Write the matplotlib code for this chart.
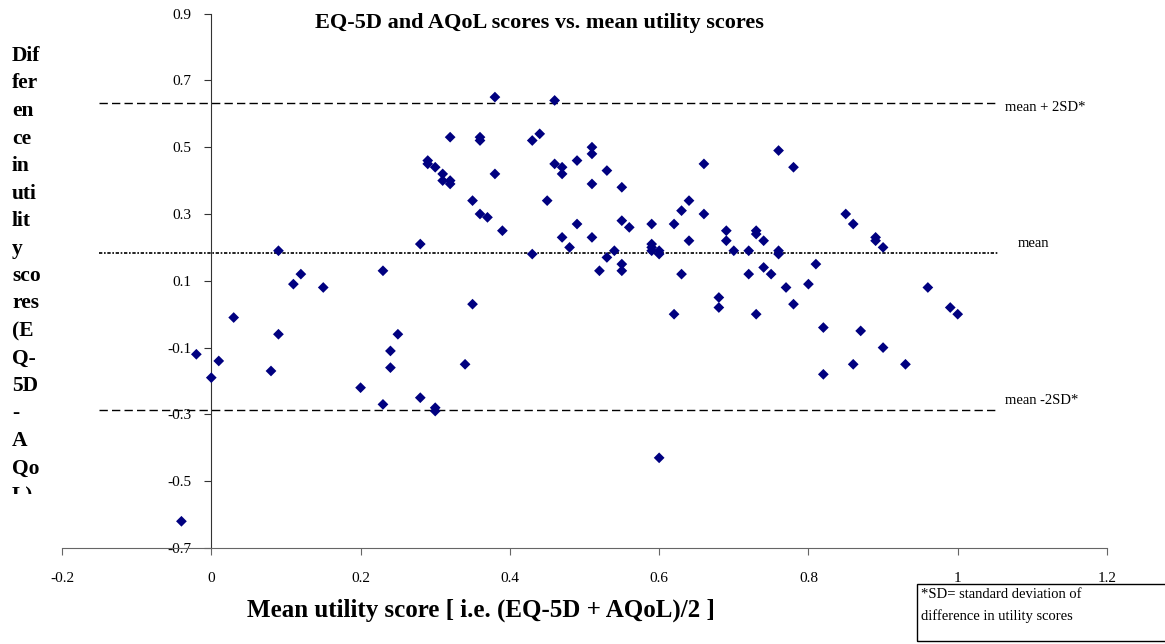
import numpy as np
import matplotlib
matplotlib.use('Agg')
import matplotlib.pyplot as plt
from matplotlib.patches import Rectangle
from matplotlib.transforms import Bbox, TransformedBbox

plt.rcParams['font.family'] = ['Liberation Serif', 'DejaVu Serif']

# mean utility score (x) and difference EQ-5D - AQoL (y)
mean_util = [-0.04, -0.02, 0.00, 0.01, 0.03, 0.08, 0.09, 0.09, 0.11, 0.12,
             0.15, 0.20, 0.23, 0.23, 0.24, 0.24, 0.25, 0.28, 0.28, 0.29,
             0.29, 0.30, 0.30, 0.30, 0.31, 0.31, 0.32, 0.32, 0.32, 0.34,
             0.35, 0.35, 0.36, 0.36, 0.36, 0.37, 0.38, 0.38, 0.39, 0.43,
             0.43, 0.44, 0.45, 0.46, 0.46, 0.47, 0.47, 0.47, 0.48, 0.49,
             0.49, 0.51, 0.51, 0.51, 0.51, 0.52, 0.53, 0.53, 0.54, 0.55,
             0.55, 0.55, 0.55, 0.56, 0.59, 0.59, 0.59, 0.59, 0.60, 0.60,
             0.60, 0.62, 0.62, 0.63, 0.63, 0.64, 0.64, 0.66, 0.66, 0.68,
             0.68, 0.69, 0.69, 0.70, 0.72, 0.72, 0.73, 0.73, 0.73, 0.74,
             0.74, 0.75, 0.76, 0.76, 0.76, 0.77, 0.78, 0.78, 0.80, 0.81,
             0.82, 0.82, 0.85, 0.86, 0.86, 0.87, 0.89, 0.89, 0.90, 0.90,
             0.93, 0.96, 0.99, 1.00]
diff_util = [-0.62, -0.12, -0.19, -0.14, -0.01, -0.17, 0.19, -0.06, 0.09, 0.12,
             0.08, -0.22, 0.13, -0.27, -0.11, -0.16, -0.06, 0.21, -0.25, 0.46,
             0.45, 0.44, -0.28, -0.29, 0.42, 0.40, 0.40, 0.39, 0.53, -0.15,
             0.34, 0.03, 0.30, 0.53, 0.52, 0.29, 0.65, 0.42, 0.25, 0.18,
             0.52, 0.54, 0.34, 0.64, 0.45, 0.44, 0.42, 0.23, 0.20, 0.46,
             0.27, 0.50, 0.48, 0.39, 0.23, 0.13, 0.43, 0.17, 0.19, 0.38,
             0.28, 0.15, 0.13, 0.26, 0.27, 0.21, 0.20, 0.19, 0.19, 0.18,
             -0.43, 0.27, 0.00, 0.31, 0.12, 0.34, 0.22, 0.45, 0.30, 0.05,
             0.02, 0.25, 0.22, 0.19, 0.19, 0.12, 0.25, 0.24, 0.00, 0.22,
             0.14, 0.12, 0.49, 0.19, 0.18, 0.08, 0.44, 0.03, 0.09, 0.15,
             -0.04, -0.18, 0.30, 0.27, -0.15, -0.05, 0.23, 0.22, 0.20, -0.10,
             -0.15, 0.08, 0.02, 0.00]

mean_diff = 0.183
upper_lim = 0.631
lower_lim = -0.287

xticks = [-0.2, 0, 0.2, 0.4, 0.6, 0.8, 1.0, 1.2]
xtick_labels = ['-0.2', '0', '0.2', '0.4', '0.6', '0.8', '1', '1.2']
yticks = [-0.7, -0.5, -0.3, -0.1, 0.1, 0.3, 0.5, 0.7, 0.9]
ytick_labels = ['-0.7', '-0.5', '-0.3', '-0.1', '0.1', '0.3', '0.5', '0.7', '0.9']

ylabel_parts = ['Dif', 'fer', 'en', 'ce', 'in', 'uti', 'lit', 'y', 'sco', 'res',
                '(E', 'Q-', '5D', '-', 'A', 'Qo', 'L)']

W, H = 1165, 644
fig = plt.figure(figsize=(W / 100, H / 100), dpi=100)
ax = fig.add_axes([62 / W, 1 - 548 / H, (1107 - 62) / W, (548 - 13.6) / H])

ax.scatter(mean_util, diff_util, marker='D', s=30, color='#000080',
           edgecolors='none', zorder=3)

# limits of agreement
ax.plot([-0.15, 1.05], [upper_lim, upper_lim], color='black', lw=1,
        ls=(0, (6, 3)))
ax.plot([-0.15, 1.05], [lower_lim, lower_lim], color='black', lw=1,
        ls=(0, (6, 3)))
ax.plot([-0.15, 1.055], [mean_diff, mean_diff], color='black', lw=1.2,
        ls=(0, (2, 1, 1, 1)))

ax.text(1.063, upper_lim - 0.012, 'mean + 2SD*', fontsize=10.5, va='center')
ax.text(1.08, mean_diff + 0.03, 'mean', fontsize=10.5, va='center')
ax.text(1.063, lower_lim + 0.03, 'mean -2SD*', fontsize=10.5, va='center')

ax.set_xlim(-0.2, 1.2)
ax.set_ylim(-0.7, 0.9)
ax.set_xticks(xticks)
ax.set_xticklabels(xtick_labels)
ax.set_yticks(yticks)
ax.set_yticklabels(ytick_labels)
ax.spines['left'].set_position(('data', 0))
ax.spines['right'].set_visible(False)
ax.spines['top'].set_visible(False)
ax.spines['left'].set_color('#333333')
ax.spines['bottom'].set_color('#666666')
ax.tick_params(axis='both', direction='out', length=5, labelsize=11)
ax.tick_params(axis='x', pad=12, color='#666666')
ax.tick_params(axis='y', pad=9, color='#333333')
ax.patch.set_alpha(0)

fig.text(539.5 / W, 1 - 23 / H,
         'EQ-5D and AQoL scores vs. mean utility scores',
         ha='center', va='center', fontsize=16, fontweight='bold')

fig.text(481 / W, 1 - 610 / H,
         'Mean utility score [ i.e. (EQ-5D + AQoL)/2 ]',
         ha='center', va='center', fontsize=18, fontweight='bold')

# narrow wrapped y label, cut off at the bottom like the original
clip = TransformedBbox(Bbox([[0, 1 - 494 / H], [0.2, 1]]), fig.transFigure)
for i, part in enumerate(ylabel_parts):
    t = fig.text(12 / W, 1 - (56 + i * 27.5) / H, part, ha='left',
                 va='center', fontsize=15.5, fontweight='bold')
    t.set_clip_box(clip)
    t.set_clip_on(True)

fig.patches.append(Rectangle((917 / W, 1 - 641 / H), 260 / W, 57 / H,
                             transform=fig.transFigure, fill=False,
                             edgecolor='black', lw=1))
fig.text(921 / W, 1 - 595 / H, '*SD= standard deviation of',
         fontsize=10.5, va='center')
fig.text(921 / W, 1 - 616 / H, 'difference in utility scores',
         fontsize=10.5, va='center')

fig.savefig('out.png', dpi=100)
